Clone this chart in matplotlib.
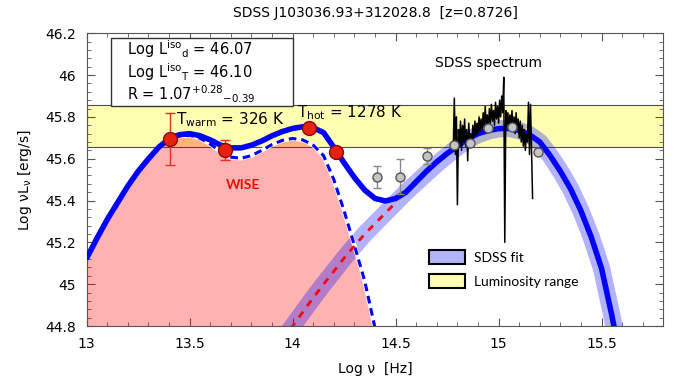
import numpy as np
import matplotlib
matplotlib.use("Agg")
import matplotlib.pyplot as plt
from matplotlib.ticker import MultipleLocator, FormatStrFormatter
from matplotlib.patches import Rectangle, Patch

# total SED fit (solid blue)
fit_x = [13.0, 13.05, 13.1, 13.15, 13.2, 13.25, 13.3, 13.35, 13.4, 13.45, 13.5, 13.55, 13.6,
         13.65, 13.7, 13.75, 13.8, 13.85, 13.9, 13.95, 14.0, 14.05, 14.1, 14.15, 14.2, 14.25,
         14.3, 14.35, 14.4, 14.45, 14.5, 14.55, 14.6, 14.65, 14.7, 14.75, 14.8, 14.85, 14.9,
         14.95, 15.0, 15.05, 15.1, 15.15, 15.2, 15.25, 15.3, 15.35, 15.4, 15.45, 15.5, 15.55, 15.58]
fit_y = [45.125, 45.22, 45.31, 45.39, 45.47, 45.54, 45.60, 45.655, 45.695, 45.715, 45.72, 45.71,
         45.69, 45.665, 45.652, 45.652, 45.665, 45.685, 45.71, 45.73, 45.745, 45.753, 45.748,
         45.725, 45.655, 45.58, 45.51, 45.45, 45.41, 45.398, 45.41, 45.44, 45.49, 45.54, 45.585,
         45.625, 45.66, 45.695, 45.72, 45.735, 45.744, 45.745, 45.735, 45.715, 45.68, 45.615,
         45.54, 45.455, 45.35, 45.225, 45.075, 44.85, 44.70]

# dust component (dashed blue, pink fill)
dust_x = [13.0, 13.05, 13.1, 13.15, 13.2, 13.25, 13.3, 13.35, 13.4, 13.45, 13.5, 13.55, 13.6,
          13.65, 13.7, 13.75, 13.8, 13.85, 13.9, 13.95, 14.0, 14.05, 14.1, 14.15, 14.2, 14.25,
          14.3, 14.35, 14.4]
dust_y = [45.125, 45.22, 45.31, 45.39, 45.47, 45.54, 45.60, 45.652, 45.69, 45.709, 45.712,
          45.698, 45.67, 45.635, 45.608, 45.602, 45.615, 45.64, 45.668, 45.688, 45.697, 45.69,
          45.665, 45.615, 45.50, 45.35, 45.185, 45.015, 44.79]

# accretion disk / SDSS fit
disk_x = [13.95, 14.0, 14.05, 14.1, 14.15, 14.2, 14.25, 14.3, 14.35, 14.4, 14.45, 14.5, 14.55,
          14.6, 14.65, 14.7, 14.75, 14.8, 14.85, 14.9, 14.95, 15.0, 15.05, 15.1, 15.15, 15.2,
          15.25, 15.3, 15.35, 15.4, 15.45, 15.5, 15.55, 15.58]
disk_y = [44.735, 44.80, 44.868, 44.935, 45.0, 45.062, 45.125, 45.183, 45.24, 45.29, 45.34,
          45.39, 45.44, 45.485, 45.53, 45.575, 45.615, 45.655, 45.69, 45.715, 45.733, 45.743,
          45.745, 45.735, 45.715, 45.68, 45.615, 45.54, 45.455, 45.35, 45.225, 45.075, 44.85, 44.70]
disk_ext_end = 14.52

# WISE photometry
wise_x = [13.403, 13.67, 14.08, 14.21]
wise_y = [45.696, 45.642, 45.745, 45.634]
wise_err = [0.125, 0.046, 0.0, 0.0]

# SDSS photometry
phot_x = [14.411, 14.52, 14.65, 14.783, 14.863, 14.948, 15.064, 15.19]
phot_y = [45.514, 45.514, 45.614, 45.664, 45.674, 45.748, 45.753, 45.634]
phot_err = [0.052, 0.085, 0.039, 0.0, 0.0, 0.0, 0.0, 0.0]

# SDSS spectrum (x grid 14.780 .. 15.165, step 0.005)
spec_x = np.round(np.arange(14.780, 15.1651, 0.005), 3)
spec_y = [45.66, 45.89, 45.62, 45.80, 45.38, 45.74, 45.66, 45.78, 45.64, 45.76, 45.68, 45.79,
          45.66, 45.74, 45.59, 45.77, 45.68, 45.72, 45.66, 45.76, 45.70, 45.78, 45.71, 45.77,
          45.72, 45.80, 45.73, 45.79, 45.74, 45.82, 45.75, 45.85, 45.76, 45.81, 45.74, 45.84,
          45.77, 45.86, 45.78, 45.83, 45.76, 45.87, 45.79, 45.85, 45.77, 45.88, 45.80, 45.90,
          45.82, 45.99, 45.20, 45.83, 45.76, 45.82, 45.74, 45.81, 45.75, 45.83, 45.73, 45.80,
          45.72, 45.82, 45.74, 45.79, 45.70, 45.78, 45.68, 45.76, 45.66, 45.74, 45.64, 45.72,
          45.68, 45.87, 45.62, 45.86, 45.64, 45.41]

lum_range = (45.655, 45.855)

fig = plt.figure(figsize=(6.86, 3.79), dpi=100)
ax = fig.add_axes([0.1264, 0.1398, 0.8406, 0.7724])

ax.axhspan(lum_range[0], lum_range[1], facecolor=(1, 1, 0, 0.3), edgecolor='0.3', lw=0.8, zorder=1)
ax.fill_between(dust_x, 44.0, dust_y, color='red', alpha=0.3, lw=0, zorder=2)
ax.plot(disk_x, disk_y, color='blue', alpha=0.3, lw=12.5, solid_capstyle='butt', zorder=3)
ax.plot(dust_x, dust_y, color='white', lw=3.2, zorder=4)
ax.plot(dust_x, dust_y, color='blue', lw=2.2, ls=(0, (2.5, 1.6)), zorder=4)
dx = [x for x in disk_x if x <= disk_ext_end]
dy = disk_y[:len(dx)]
ax.plot(dx, dy, color='red', lw=2, ls=(0, (2.5, 2.5)), zorder=5)
ax.plot(fit_x, fit_y, color='blue', lw=4, zorder=6, solid_capstyle='round')
ax.plot(spec_x, spec_y, color='black', lw=1.1, zorder=7)

ax.errorbar(phot_x, phot_y, yerr=phot_err, fmt='o', ms=6.5, mfc='#c4c4c4', mec='#555555',
            mew=1, ecolor='#888888', elinewidth=1, capsize=3, zorder=8)
ax.errorbar(wise_x, wise_y, yerr=wise_err, fmt='o', ms=10, mfc='#e8200e', mec='#8a0a00',
            mew=1, ecolor='#e83020', elinewidth=1, capsize=3.5, zorder=9)

ax.text(13.433, 45.765, r'T$_{\rm warm}$ = 326 K', fontsize=11, zorder=10)
ax.text(14.023, 45.798, r'T$_{\rm hot}$ = 1278 K', fontsize=11, zorder=10)
ax.text(14.95, 46.059, 'SDSS spectrum', fontsize=10, ha='center', va='center', zorder=10)
ax.text(13.758, 45.474, 'WISE', fontsize=10, fontweight='bold', color='#e8140c',
        family='Lato', ha='center', va='center', zorder=10)

ax.add_patch(Rectangle((13.12, 45.853), 0.88, 0.326, facecolor='white', edgecolor='0.2',
                       lw=1, zorder=11))
ax.text(13.198, 46.096, r'Log L$^{\rm iso}{}_{\rm d}$ = 46.07', fontsize=10.5, zorder=12)
ax.text(13.198, 45.988, r'Log L$^{\rm iso}{}_{\rm T}$ = 46.10', fontsize=10.5, zorder=12)
ax.text(13.198, 45.881, r'R = 1.07$^{+0.28}{}_{-0.39}$', fontsize=10.5, zorder=12)

handles = [Patch(facecolor='#b3b3ff', edgecolor='black', lw=1.5, label='SDSS fit'),
           Patch(facecolor='#ffffb3', edgecolor='black', lw=1.5, label='Luminosity range')]
ax.legend(handles=handles, loc='upper left', bbox_to_anchor=(0.594, 0.26), frameon=False,
          borderpad=0, borderaxespad=0, handlelength=2.6, handleheight=1.2,
          labelspacing=0.69, handletextpad=0.6, prop={'family': 'Lato', 'size': 10})

ax.set_xlim(13, 15.8)
ax.set_ylim(44.8, 46.2)
ax.xaxis.set_major_locator(MultipleLocator(0.5))
ax.xaxis.set_minor_locator(MultipleLocator(0.1))
ax.yaxis.set_major_locator(MultipleLocator(0.2))
ax.yaxis.set_minor_locator(MultipleLocator(0.04))
ax.xaxis.set_major_formatter(FormatStrFormatter('%g'))
ax.yaxis.set_major_formatter(FormatStrFormatter('%g'))
ax.set_xticks([13, 13.5, 14, 14.5, 15, 15.5])
ax.tick_params(which='both', direction='in', top=True, right=True, color='#555555',
               labelsize=10)
ax.tick_params(which='major', length=6, pad=8)
ax.tick_params(which='minor', length=3)
for s in ax.spines.values():
    s.set_color('#555555')

ax.set_xlabel('Log ν  [Hz]', fontsize=10, labelpad=8)
ax.set_ylabel(r'Log νL$_{\mathregular{ν}}$ [erg/s]', fontsize=10, labelpad=8)
ax.set_title('SDSS J103036.93+312028.8  [z=0.8726]', fontsize=10, pad=12)

fig.savefig('out.png', dpi=100)
